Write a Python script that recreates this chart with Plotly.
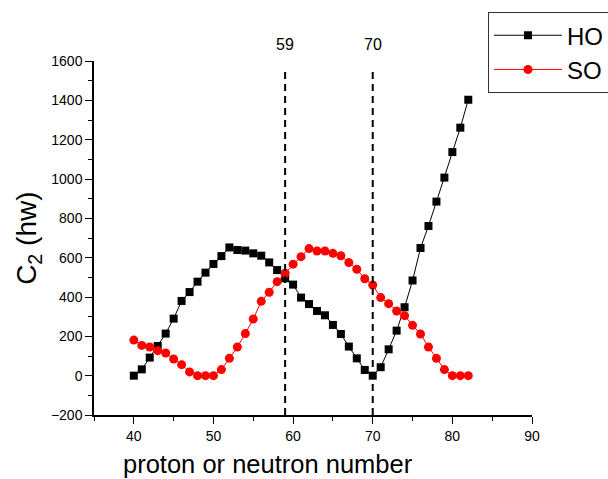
import plotly.graph_objects as go

# ---- data ----
nucleon_number = list(range(40, 83))
ho_values = [0, 32, 92, 151, 214, 290, 380, 425, 478, 524, 568, 608, 652, 639, 636,
             622, 610, 576, 537, 495, 463, 397, 364, 329, 307, 258, 212, 148, 88, 29,
             0, 43, 134, 229, 348, 484, 649, 761, 885, 1007, 1137, 1261, 1403]
so_values = [181, 154, 146, 127, 115, 85, 56, 19, 0, 0, 0, 31, 88, 146, 214,
             288, 378, 424, 478, 521, 567, 605, 646, 634, 634, 622, 610, 575, 541, 493,
             461, 397, 366, 329, 305, 256, 212, 146, 88, 31, 0, 0, 0]
magic_lines = [59, 70]
x_ticks = [40, 50, 60, 70, 80, 90]
y_ticks = [-200, 0, 200, 400, 600, 800, 1000, 1200, 1400, 1600]

FONT = "Arial, Liberation Sans, sans-serif"

fig = go.Figure()
fig.add_trace(go.Scatter(
    x=nucleon_number, y=ho_values, name="HO", mode="lines+markers",
    line=dict(color="black", width=1),
    marker=dict(symbol="square", size=8, color="black"),
))
fig.add_trace(go.Scatter(
    x=nucleon_number, y=so_values, name="SO", mode="lines+markers",
    line=dict(color="#ff0000", width=1),
    marker=dict(symbol="circle", size=9, color="#ff0000"),
))

for xv in magic_lines:
    fig.add_shape(type="line", xref="x", yref="y", x0=xv, x1=xv, y0=-200, y1=1555,
                  line=dict(color="black", width=2, dash="7px,5px"))
    fig.add_annotation(x=xv, xref="x", y=1.048, yref="paper", text=str(xv),
                       showarrow=False, font=dict(size=16, color="black", family=FONT),
                       xanchor="center", yanchor="middle")

fig.add_annotation(x=0.397, xref="paper", y=-0.138, yref="paper",
                   text="proton or neutron number", showarrow=False,
                   font=dict(size=25.5, color="black", family=FONT),
                   xanchor="center", yanchor="middle")
fig.add_annotation(x=-0.151, xref="paper", y=0.5, yref="paper",
                   text="C<sub>2</sub> (hw)", showarrow=False, textangle=-90,
                   font=dict(size=28, color="black", family=FONT),
                   xanchor="center", yanchor="middle")

fig.update_xaxes(
    range=[35, 90], tickmode="array", tickvals=x_ticks, ticks="outside", ticklen=7,
    tickwidth=1, tickcolor="black", showline=True, linecolor="black", linewidth=1.5,
    showgrid=False, zeroline=False, tickfont=dict(size=14, color="black", family=FONT),
    minor=dict(dtick=5, tick0=35, ticks="outside", ticklen=4, tickcolor="black", tickwidth=1, showgrid=False),
)
fig.update_yaxes(
    range=[-200, 1600], tickmode="array", tickvals=y_ticks, ticks="outside", ticklen=7,
    tickwidth=1, tickcolor="black", showline=True, linecolor="black", linewidth=1.5,
    showgrid=False, zeroline=False, tickfont=dict(size=14, color="black", family=FONT),
    minor=dict(dtick=100, tick0=-200, ticks="outside", ticklen=4, tickcolor="black", tickwidth=1, showgrid=False),
)

fig.update_layout(
    width=608, height=479,
    margin=dict(l=94, r=76, t=61, b=64, autoexpand=False),
    paper_bgcolor="white", plot_bgcolor="white",
    font=dict(family=FONT, color="black"),
    showlegend=True,
    legend=dict(x=0.8995, xanchor="left", y=1.138, yanchor="top",
                bgcolor="white", bordercolor="#333333", borderwidth=1,
                font=dict(size=24, color="black", family=FONT),
                itemwidth=68, tracegroupgap=0, entrywidth=140),
)

fig.write_html("out.html", config={"displayModeBar": False},
               post_script="document.body.style.margin='0';document.body.style.overflow='hidden';")
